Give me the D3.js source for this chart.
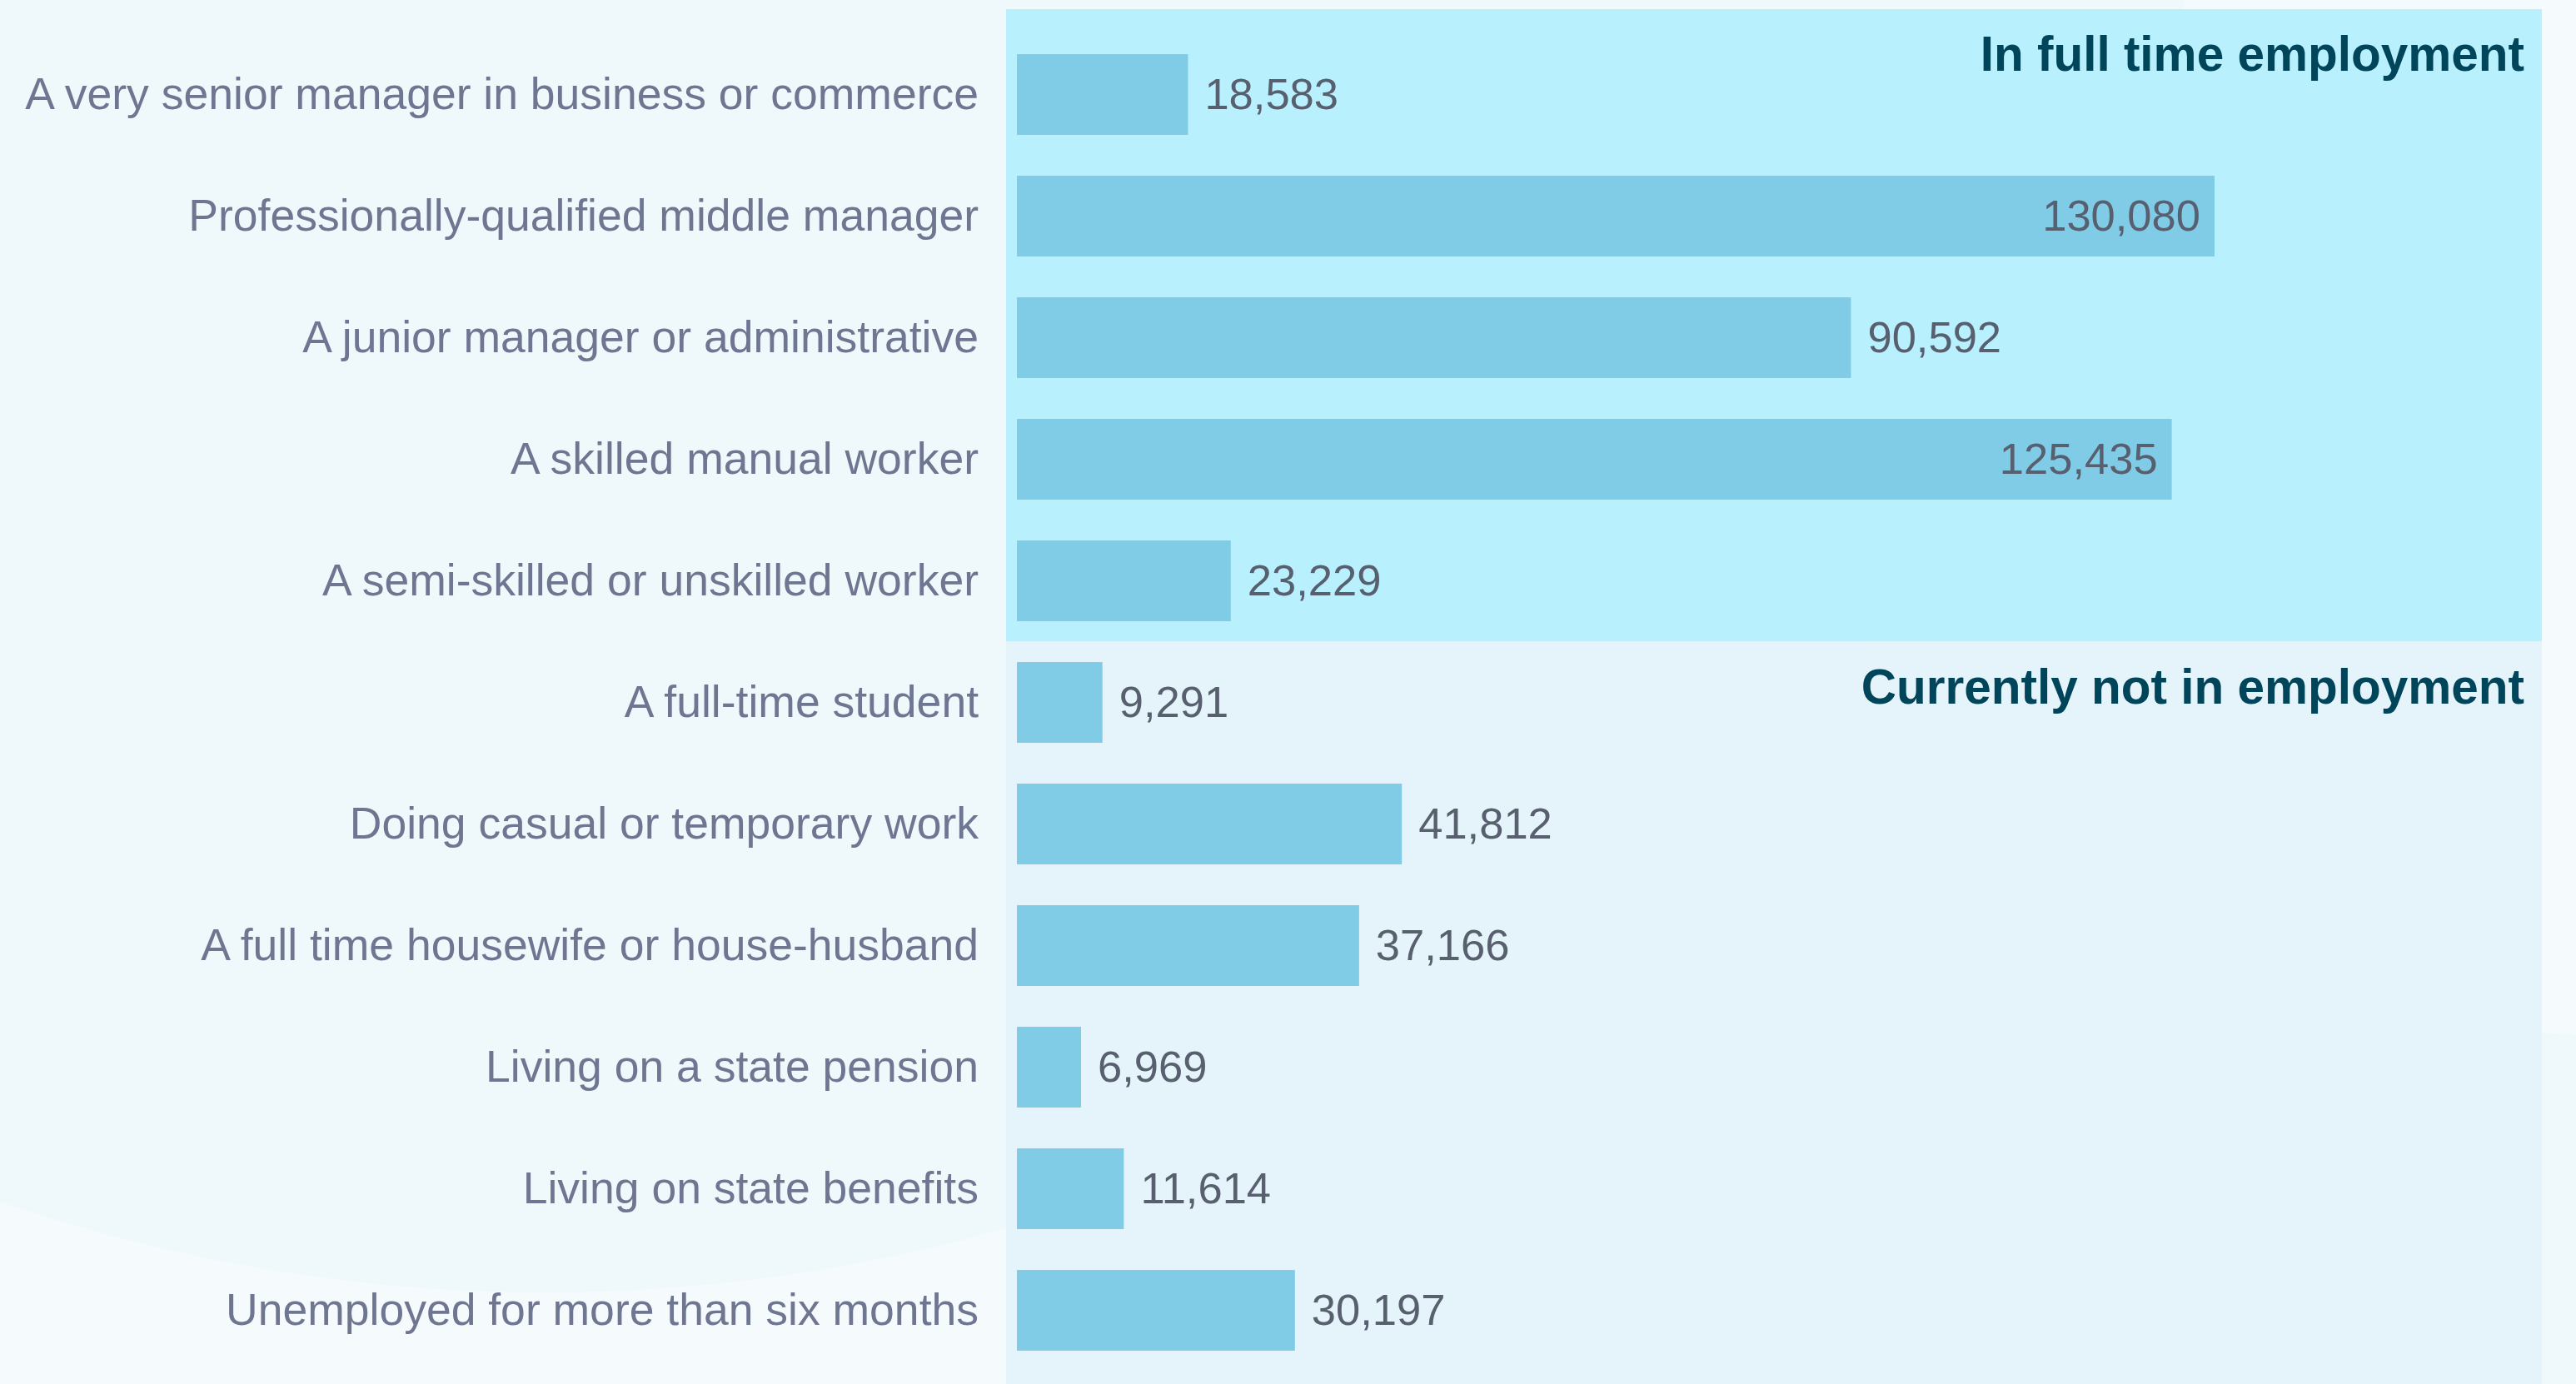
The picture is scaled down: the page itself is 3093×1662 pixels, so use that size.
<!DOCTYPE html>
<html>
	<head>
		<title>Employment status</title>
		<meta charset="utf-8">
	</head>
	<body>
	</body>
</html>
<script src="https://d3js.org/d3.v7.min.js"></script>
<style>
html,body{
	margin: 0;
	padding: 0;
	background: #f5fafd;
}
svg{
	display: block;
}
</style>
<script>
	var categories=[
		"A very senior manager in business or commerce",
		"Professionally-qualified middle manager",
		"A junior manager or administrative",
		"A skilled manual worker",
		"A semi-skilled or unskilled worker",
		"A full-time student",
		"Doing casual or temporary work",
		"A full time housewife or house-husband",
		"Living on a state pension",
		"Living on state benefits",
		"Unemployed for more than six months"
	];
	var counts=[18583,130080,90592,125435,23229,9291,41812,37166,6969,11614,30197];
	var groupNames=["In full time employment","Currently not in employment"];
	var groupSizes=[5,6];

	var W=3093,H=1662;

	var svg=d3.select("body")
	.append("svg")
	.attr("width",W)
	.attr("height",H);

	//background decoration
	svg.append("rect")
	.attr("width",W)
	.attr("height",H)
	.attr("fill","#f5fafd");
	svg.append("circle")
	.attr("cx",655)
	.attr("cy",-472)
	.attr("r",2024)
	.attr("fill","#eff8fb");
	svg.append("circle")
	.attr("cx",2950)
	.attr("cy",2905)
	.attr("r",1668)
	.attr("fill","#eff8fb");

	var scaleX=d3.scaleLinear()
	.domain([0,165000])
	.range([1221,3045]);

	var scaleY=d3.scaleBand()
	.domain(categories)
	.range([40.5,1646.5])
	.paddingInner(0.336)
	.paddingOuter(0.168);

	//group bands
	var bandLeft=1208,bandRight=3052;
	var gap=scaleY.step()-scaleY.bandwidth();
	var groups=[];
	var start=0;
	groupNames.forEach(function(name,i){
		var first=categories[start];
		var last=categories[start+groupSizes[i]-1];
		var y0=(i==0)?scaleY(first)-54:scaleY(first)-gap/2;
		var y1=(i==groupNames.length-1)?H:scaleY(last)+scaleY.bandwidth()+gap/2;
		groups.push({name:name,y0:y0,y1:y1});
		start+=groupSizes[i];
	});

	svg.selectAll(".band")
	.data(groups)
	.enter()
	.append("rect")
	.attr("class","band")
	.attr("x",bandLeft)
	.attr("y",(d)=>d.y0)
	.attr("width",bandRight-bandLeft)
	.attr("height",(d)=>d.y1-d.y0)
	.attr("fill",(d,i)=>i==0?"#b8f0fd":"#e5f4fa");

	svg.selectAll(".group-title")
	.data(groups)
	.enter()
	.append("text")
	.attr("class","group-title")
	.attr("x",3031)
	.attr("y",(d)=>d.y0+74)
	.attr("text-anchor","end")
	.style("font-family","'Liberation Sans', Arial, sans-serif")
	.style("font-size","58.5px")
	.style("font-weight","bold")
	.attr("fill","#00455a")
	.text((d)=>d.name);

	//bars
	svg.selectAll(".bar")
	.data(counts)
	.enter()
	.append("rect")
	.attr("class","bar")
	.attr("x",scaleX(0))
	.attr("y",(d,i)=>scaleY(categories[i]))
	.attr("width",(d)=>scaleX(d)-scaleX(0))
	.attr("height",scaleY.bandwidth())
	.attr("fill","#80cce6");

	//value labels
	var fmt=d3.format(",");
	svg.selectAll(".value")
	.data(counts)
	.enter()
	.append("text")
	.attr("class","value")
	.attr("x",(d)=>d>100000?scaleX(d)-17:scaleX(d)+20)
	.attr("y",(d,i)=>scaleY(categories[i])+scaleY.bandwidth()/2)
	.attr("dy","0.34em")
	.attr("text-anchor",(d)=>d>100000?"end":"start")
	.style("font-family","'Liberation Sans', Arial, sans-serif")
	.style("font-size","52.5px")
	.attr("fill","#586070")
	.text((d)=>fmt(d));

	//category axis
	var yAxis=d3.axisLeft(scaleY).tickSize(0).tickPadding(0);
	var gy=svg.append("g")
	.attr("transform","translate(1175,0)")
	.call(yAxis);
	gy.select(".domain").remove();
	gy.selectAll("text")
	.attr("dy","0.33em")
	.style("font-family","'Liberation Sans', Arial, sans-serif")
	.style("font-size","53.5px")
	.attr("fill","#6e7691");
</script>
